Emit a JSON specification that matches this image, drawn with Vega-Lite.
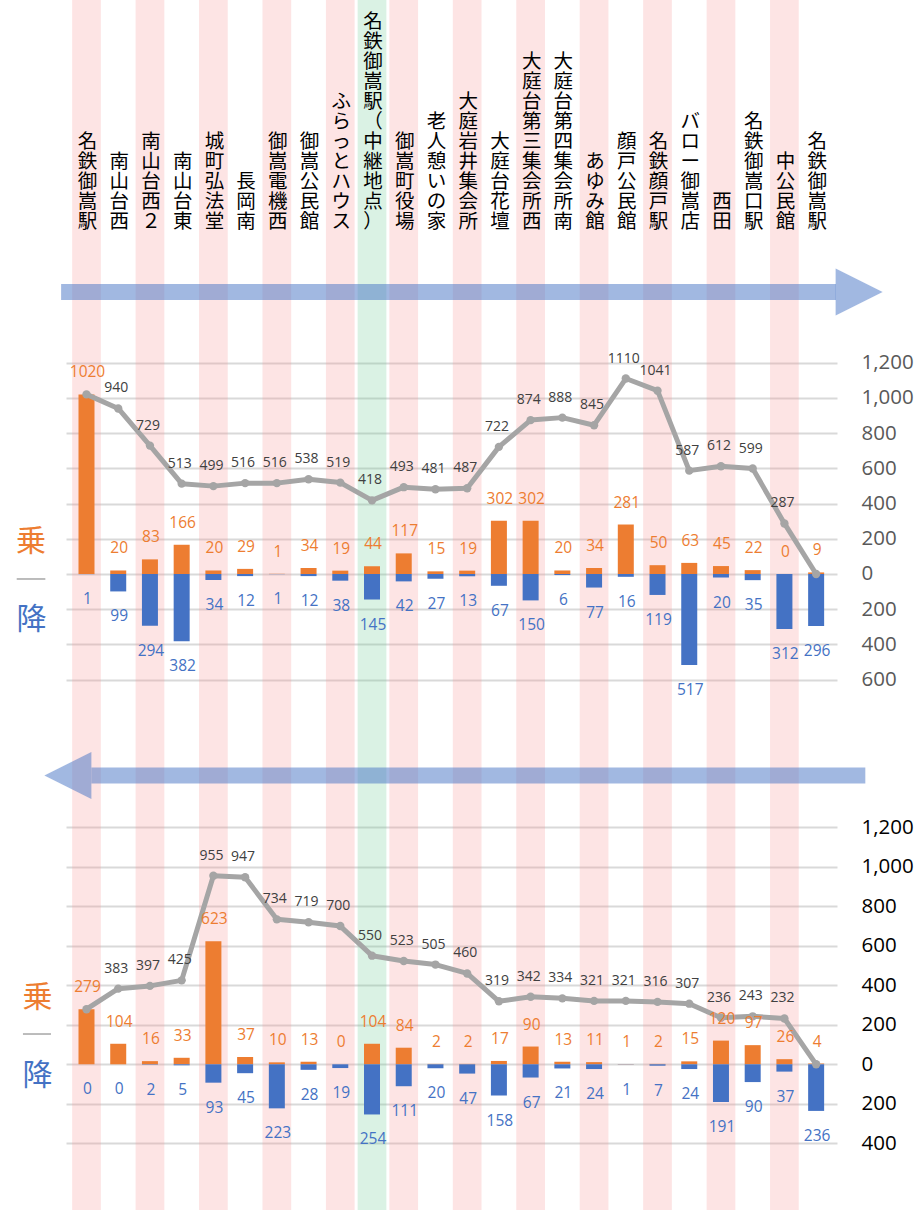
{
  "$schema": "https://vega.github.io/schema/vega-lite/v6.json",
  "width": 771,
  "height": 1210,
  "autosize": {"type": "none"},
  "padding": {"left": 66, "right": 81, "top": 0, "bottom": 0},
  "background": "#ffffff",
  "config": {"view": {"stroke": null}, "font": "Open Sans"},
  "datasets": {
    "stops": [
      {"i": 0, "name": "名鉄御嵩駅", "stripe": "pink", "up_board": 1020, "up_alight": 1, "up_load": 1020, "down_board": 279, "down_alight": 0, "down_load": 279},
      {"i": 1, "name": "南山台西", "stripe": "none", "up_board": 20, "up_alight": 99, "up_load": 940, "down_board": 104, "down_alight": 0, "down_load": 383},
      {"i": 2, "name": "南山台西２", "stripe": "pink", "up_board": 83, "up_alight": 294, "up_load": 729, "down_board": 16, "down_alight": 2, "down_load": 397},
      {"i": 3, "name": "南山台東", "stripe": "none", "up_board": 166, "up_alight": 382, "up_load": 513, "down_board": 33, "down_alight": 5, "down_load": 425},
      {"i": 4, "name": "城町弘法堂", "stripe": "pink", "up_board": 20, "up_alight": 34, "up_load": 499, "down_board": 623, "down_alight": 93, "down_load": 955},
      {"i": 5, "name": "長岡南", "stripe": "none", "up_board": 29, "up_alight": 12, "up_load": 516, "down_board": 37, "down_alight": 45, "down_load": 947},
      {"i": 6, "name": "御嵩電機西", "stripe": "pink", "up_board": 1, "up_alight": 1, "up_load": 516, "down_board": 10, "down_alight": 223, "down_load": 734},
      {"i": 7, "name": "御嵩公民館", "stripe": "none", "up_board": 34, "up_alight": 12, "up_load": 538, "down_board": 13, "down_alight": 28, "down_load": 719},
      {"i": 8, "name": "ふらっとハウス", "stripe": "pink", "up_board": 19, "up_alight": 38, "up_load": 519, "down_board": 0, "down_alight": 19, "down_load": 700},
      {"i": 9, "name": "名鉄御嵩駅（中継地点）", "stripe": "green", "up_board": 44, "up_alight": 145, "up_load": 418, "down_board": 104, "down_alight": 254, "down_load": 550},
      {"i": 10, "name": "御嵩町役場", "stripe": "pink", "up_board": 117, "up_alight": 42, "up_load": 493, "down_board": 84, "down_alight": 111, "down_load": 523},
      {"i": 11, "name": "老人憩いの家", "stripe": "none", "up_board": 15, "up_alight": 27, "up_load": 481, "down_board": 2, "down_alight": 20, "down_load": 505},
      {"i": 12, "name": "大庭岩井集会所", "stripe": "pink", "up_board": 19, "up_alight": 13, "up_load": 487, "down_board": 2, "down_alight": 47, "down_load": 460},
      {"i": 13, "name": "大庭台花壇", "stripe": "none", "up_board": 302, "up_alight": 67, "up_load": 722, "down_board": 17, "down_alight": 158, "down_load": 319},
      {"i": 14, "name": "大庭台第三集会所西", "stripe": "pink", "up_board": 302, "up_alight": 150, "up_load": 874, "down_board": 90, "down_alight": 67, "down_load": 342},
      {"i": 15, "name": "大庭台第四集会所南", "stripe": "none", "up_board": 20, "up_alight": 6, "up_load": 888, "down_board": 13, "down_alight": 21, "down_load": 334},
      {"i": 16, "name": "あゆみ館", "stripe": "pink", "up_board": 34, "up_alight": 77, "up_load": 845, "down_board": 11, "down_alight": 24, "down_load": 321},
      {"i": 17, "name": "顔戸公民館", "stripe": "none", "up_board": 281, "up_alight": 16, "up_load": 1110, "down_board": 1, "down_alight": 1, "down_load": 321},
      {"i": 18, "name": "名鉄顔戸駅", "stripe": "pink", "up_board": 50, "up_alight": 119, "up_load": 1041, "down_board": 2, "down_alight": 7, "down_load": 316},
      {"i": 19, "name": "バロー御嵩店", "stripe": "none", "up_board": 63, "up_alight": 517, "up_load": 587, "down_board": 15, "down_alight": 24, "down_load": 307},
      {"i": 20, "name": "西田", "stripe": "pink", "up_board": 45, "up_alight": 20, "up_load": 612, "down_board": 120, "down_alight": 191, "down_load": 236},
      {"i": 21, "name": "名鉄御嵩口駅", "stripe": "none", "up_board": 22, "up_alight": 35, "up_load": 599, "down_board": 97, "down_alight": 90, "down_load": 243},
      {"i": 22, "name": "中公民館", "stripe": "pink", "up_board": 0, "up_alight": 312, "up_load": 287, "down_board": 26, "down_alight": 37, "down_load": 232},
      {"i": 23, "name": "名鉄御嵩駅", "stripe": "none", "up_board": 9, "up_alight": 296, "up_load": 0, "down_board": 4, "down_alight": 236, "down_load": 0}
    ]
  },
  "data": {"name": "stops"},
  "resolve": {"scale": {"y": "independent"}, "axis": {"y": "independent"}},
  "layer": [
    {
      "transform": [{"filter": {"field": "stripe", "oneOf": ["pink", "green"]}}],
      "mark": {"type": "rule", "strokeWidth": 28.7, "strokeCap": "butt", "strokeOpacity": 0.25},
      "encoding": {
        "x": {"field": "i", "type": "quantitative", "scale": {"domain": [-0.4885, 23.5], "nice": false, "zero": false}, "axis": null},
        "color": {"field": "stripe", "type": "nominal", "scale": {"domain": ["pink", "green"], "range": ["#F79393", "#6CCA92"]}, "legend": null}
      }
    },
    {
      "mark": {"type": "bar", "width": 16, "color": "#ED7D31"},
      "encoding": {
        "x": {"field": "i", "type": "quantitative", "scale": {"domain": [-0.4885, 23.5], "nice": false, "zero": false}, "axis": null},
        "y": {"field": "up_board", "type": "quantitative", "scale": {"domain": [-3611.9, 3259.7], "nice": false, "zero": false},
          "axis": {"orient": "right", "values": [-600, -400, -200, 0, 200, 400, 600, 800, 1000, 1200], "labelExpr": "format(abs(datum.value), ',')", "grid": true, "gridColor": "#D9D9D9", "gridWidth": 2, "domain": false, "ticks": false, "tickSize": 0, "labelPadding": 24, "labelFontSize": 20.5, "labelFont": "Open Sans", "labelColor": "#595959", "labelAlign": "left", "labelBaseline": "middle", "labelOverlap": false, "title": null}},
        "y2": {"datum": 0}
      }
    },
    {
      "layer": [
        {
          "mark": {"type": "bar", "width": 16, "color": "#4472C4"},
          "encoding": {
            "x": {"field": "i", "type": "quantitative", "scale": {"domain": [-0.4885, 23.5], "nice": false, "zero": false}, "axis": null},
            "y": {"field": "up_alight", "type": "quantitative", "scale": {"domain": [-3259.7, 3611.9], "reverse": true, "nice": false, "zero": false}, "axis": null},
            "y2": {"datum": 0}
          }
        },
        {
          "mark": {"type": "text", "color": "#4472C4", "fontSize": 15.5, "font": "Open Sans", "baseline": "middle", "dy": 25, "dx": 1},
          "encoding": {
            "x": {"field": "i", "type": "quantitative", "scale": {"domain": [-0.4885, 23.5], "nice": false, "zero": false}, "axis": null},
            "y": {"field": "up_alight", "type": "quantitative", "scale": {"domain": [-3259.7, 3611.9], "reverse": true, "nice": false, "zero": false}, "axis": null},
            "text": {"field": "up_alight", "type": "quantitative", "format": "d"}
          }
        }
      ]
    },
    {
      "layer": [
        {
          "mark": {"type": "line", "color": "#A5A5A5", "strokeWidth": 5, "strokeJoin": "round", "point": {"filled": true, "size": 70, "color": "#A5A5A5"}},
          "encoding": {
            "x": {"field": "i", "type": "quantitative", "scale": {"domain": [-0.4885, 23.5], "nice": false, "zero": false}, "axis": null},
            "y": {"field": "up_load", "type": "quantitative", "scale": {"domain": [-3611.9, 3259.7], "nice": false, "zero": false}, "axis": null}
          }
        },
        {
          "mark": {"type": "text", "color": "#ED7D31", "fontSize": 15.5, "font": "Open Sans", "baseline": "middle", "dy": -22, "dx": 1},
          "encoding": {
            "x": {"field": "i", "type": "quantitative", "scale": {"domain": [-0.4885, 23.5], "nice": false, "zero": false}, "axis": null},
            "y": {"field": "up_board", "type": "quantitative", "scale": {"domain": [-3611.9, 3259.7], "nice": false, "zero": false}, "axis": null},
            "text": {"field": "up_board", "type": "quantitative", "format": "d"}
          }
        },
        {
          "transform": [{"filter": "datum.i > 0 && datum.i < 23"}],
          "mark": {"type": "text", "color": "#404040", "fontSize": 14, "font": "Open Sans", "baseline": "middle", "dy": -20, "dx": -2},
          "encoding": {
            "x": {"field": "i", "type": "quantitative", "scale": {"domain": [-0.4885, 23.5], "nice": false, "zero": false}, "axis": null},
            "y": {"field": "up_load", "type": "quantitative", "scale": {"domain": [-3611.9, 3259.7], "nice": false, "zero": false}, "axis": null},
            "text": {"field": "up_load", "type": "quantitative", "format": "d"}
          }
        },
        {
          "mark": {"type": "text", "color": "#000000", "fontSize": 19.5, "font": "Noto Sans CJK JP", "baseline": "bottom", "align": "center", "lineHeight": 20, "dx": 1, "lineBreak": {"expr": "regexp('')"}, "dy": {"expr": "-20 * (length(datum.name) - 1)"}},
          "encoding": {
            "x": {"field": "i", "type": "quantitative", "scale": {"domain": [-0.4885, 23.5], "nice": false, "zero": false}, "axis": null},
            "y": {"datum": 1942, "type": "quantitative", "scale": {"domain": [-3611.9, 3259.7], "nice": false, "zero": false}, "axis": null},
            "text": {"field": "name", "type": "nominal"}
          }
        },
        {
          "data": {"values": [{}]},
          "mark": {"type": "rule", "strokeWidth": 16, "strokeCap": "butt", "color": "#4472C4", "strokeOpacity": 0.5},
          "encoding": {
            "x": {"datum": -0.8, "type": "quantitative", "scale": {"domain": [-0.4885, 23.5], "nice": false, "zero": false}, "axis": null},
            "x2": {"datum": 23.625},
            "y": {"datum": 1601.4, "type": "quantitative", "scale": {"domain": [-3611.9, 3259.7], "nice": false, "zero": false}, "axis": null}
          }
        },
        {
          "data": {"values": [{}]},
          "mark": {"type": "point", "shape": "M-1,-1L1,0L-1,1Z", "size": 2209, "filled": true, "color": "#4472C4", "fillOpacity": 0.5, "strokeWidth": 0},
          "encoding": {
            "x": {"datum": 24.355, "type": "quantitative", "scale": {"domain": [-0.4885, 23.5], "nice": false, "zero": false}, "axis": null},
            "y": {"datum": 1601.4, "type": "quantitative", "scale": {"domain": [-3611.9, 3259.7], "nice": false, "zero": false}, "axis": null}
          }
        },
        {
          "data": {"values": [{}]},
          "mark": {"type": "text", "text": "乗", "color": "#ED7D31", "fontSize": 30, "font": "Noto Sans CJK JP", "baseline": "middle"},
          "encoding": {
            "x": {"datum": -1.749, "type": "quantitative", "scale": {"domain": [-0.4885, 23.5], "nice": false, "zero": false}, "axis": null},
            "y": {"datum": 179.4, "type": "quantitative", "scale": {"domain": [-3611.9, 3259.7], "nice": false, "zero": false}, "axis": null}
          }
        },
        {
          "data": {"values": [{}]},
          "mark": {"type": "rule", "strokeWidth": 1.5, "color": "#A6A6A6"},
          "encoding": {
            "x": {"datum": -2.2, "type": "quantitative", "scale": {"domain": [-0.4885, 23.5], "nice": false, "zero": false}, "axis": null},
            "x2": {"datum": -1.297},
            "y": {"datum": -28.4, "type": "quantitative", "scale": {"domain": [-3611.9, 3259.7], "nice": false, "zero": false}, "axis": null}
          }
        },
        {
          "data": {"values": [{}]},
          "mark": {"type": "text", "text": "降", "color": "#4472C4", "fontSize": 30, "font": "Noto Sans CJK JP", "baseline": "middle"},
          "encoding": {
            "x": {"datum": -1.733, "type": "quantitative", "scale": {"domain": [-0.4885, 23.5], "nice": false, "zero": false}, "axis": null},
            "y": {"datum": -260.7, "type": "quantitative", "scale": {"domain": [-3611.9, 3259.7], "nice": false, "zero": false}, "axis": null}
          }
        }
      ]
    },
    {
      "mark": {"type": "bar", "width": 16, "color": "#ED7D31"},
      "encoding": {
        "x": {"field": "i", "type": "quantitative", "scale": {"domain": [-0.4885, 23.5], "nice": false, "zero": false}, "axis": null},
        "y": {"field": "down_board", "type": "quantitative", "scale": {"domain": [-737.7, 5388.9], "nice": false, "zero": false},
          "axis": {"orient": "right", "values": [-400, -200, 0, 200, 400, 600, 800, 1000, 1200], "labelExpr": "format(abs(datum.value), ',')", "grid": true, "gridColor": "#D9D9D9", "gridWidth": 2, "domain": false, "ticks": false, "tickSize": 0, "labelPadding": 24, "labelFontSize": 20.5, "labelFont": "Open Sans", "labelColor": "#000000", "labelAlign": "left", "labelBaseline": "middle", "labelOverlap": false, "title": null}},
        "y2": {"datum": 0}
      }
    },
    {
      "layer": [
        {
          "mark": {"type": "bar", "width": 16, "color": "#4472C4"},
          "encoding": {
            "x": {"field": "i", "type": "quantitative", "scale": {"domain": [-0.4885, 23.5], "nice": false, "zero": false}, "axis": null},
            "y": {"field": "down_alight", "type": "quantitative", "scale": {"domain": [-5388.9, 737.7], "reverse": true, "nice": false, "zero": false}, "axis": null},
            "y2": {"datum": 0}
          }
        },
        {
          "mark": {"type": "text", "color": "#4472C4", "fontSize": 15.5, "font": "Open Sans", "baseline": "middle", "dy": 25, "dx": 1},
          "encoding": {
            "x": {"field": "i", "type": "quantitative", "scale": {"domain": [-0.4885, 23.5], "nice": false, "zero": false}, "axis": null},
            "y": {"field": "down_alight", "type": "quantitative", "scale": {"domain": [-5388.9, 737.7], "reverse": true, "nice": false, "zero": false}, "axis": null},
            "text": {"field": "down_alight", "type": "quantitative", "format": "d"}
          }
        }
      ]
    },
    {
      "layer": [
        {
          "mark": {"type": "line", "color": "#A5A5A5", "strokeWidth": 5, "strokeJoin": "round", "point": {"filled": true, "size": 70, "color": "#A5A5A5"}},
          "encoding": {
            "x": {"field": "i", "type": "quantitative", "scale": {"domain": [-0.4885, 23.5], "nice": false, "zero": false}, "axis": null},
            "y": {"field": "down_load", "type": "quantitative", "scale": {"domain": [-737.7, 5388.9], "nice": false, "zero": false}, "axis": null}
          }
        },
        {
          "mark": {"type": "text", "color": "#ED7D31", "fontSize": 15.5, "font": "Open Sans", "baseline": "middle", "dy": -22, "dx": 1},
          "encoding": {
            "x": {"field": "i", "type": "quantitative", "scale": {"domain": [-0.4885, 23.5], "nice": false, "zero": false}, "axis": null},
            "y": {"field": "down_board", "type": "quantitative", "scale": {"domain": [-737.7, 5388.9], "nice": false, "zero": false}, "axis": null},
            "text": {"field": "down_board", "type": "quantitative", "format": "d"}
          }
        },
        {
          "transform": [{"filter": "datum.i > 0 && datum.i < 23"}],
          "mark": {"type": "text", "color": "#404040", "fontSize": 14, "font": "Open Sans", "baseline": "middle", "dy": -20, "dx": -2},
          "encoding": {
            "x": {"field": "i", "type": "quantitative", "scale": {"domain": [-0.4885, 23.5], "nice": false, "zero": false}, "axis": null},
            "y": {"field": "down_load", "type": "quantitative", "scale": {"domain": [-737.7, 5388.9], "nice": false, "zero": false}, "axis": null},
            "text": {"field": "down_load", "type": "quantitative", "format": "d"}
          }
        },
        {
          "data": {"values": [{}]},
          "mark": {"type": "rule", "strokeWidth": 16, "strokeCap": "butt", "color": "#4472C4", "strokeOpacity": 0.5},
          "encoding": {
            "x": {"datum": 0.156, "type": "quantitative", "scale": {"domain": [-0.4885, 23.5], "nice": false, "zero": false}, "axis": null},
            "x2": {"datum": 24.55},
            "y": {"datum": 1462.3, "type": "quantitative", "scale": {"domain": [-737.7, 5388.9], "nice": false, "zero": false}, "axis": null}
          }
        },
        {
          "data": {"values": [{}]},
          "mark": {"type": "point", "shape": "M1,-1L-1,0L1,1Z", "size": 2209, "filled": true, "color": "#4472C4", "fillOpacity": 0.5, "strokeWidth": 0},
          "encoding": {
            "x": {"datum": -0.5865, "type": "quantitative", "scale": {"domain": [-0.4885, 23.5], "nice": false, "zero": false}, "axis": null},
            "y": {"datum": 1462.3, "type": "quantitative", "scale": {"domain": [-737.7, 5388.9], "nice": false, "zero": false}, "axis": null}
          }
        },
        {
          "data": {"values": [{}]},
          "mark": {"type": "text", "text": "乗", "color": "#ED7D31", "fontSize": 30, "font": "Noto Sans CJK JP", "baseline": "middle"},
          "encoding": {
            "x": {"datum": -1.546, "type": "quantitative", "scale": {"domain": [-0.4885, 23.5], "nice": false, "zero": false}, "axis": null},
            "y": {"datum": 333.8, "type": "quantitative", "scale": {"domain": [-737.7, 5388.9], "nice": false, "zero": false}, "axis": null}
          }
        },
        {
          "data": {"values": [{}]},
          "mark": {"type": "rule", "strokeWidth": 1.5, "color": "#A6A6A6"},
          "encoding": {
            "x": {"datum": -2.003, "type": "quantitative", "scale": {"domain": [-0.4885, 23.5], "nice": false, "zero": false}, "axis": null},
            "x2": {"datum": -1.12},
            "y": {"datum": 153.4, "type": "quantitative", "scale": {"domain": [-737.7, 5388.9], "nice": false, "zero": false}, "axis": null}
          }
        },
        {
          "data": {"values": [{}]},
          "mark": {"type": "text", "text": "降", "color": "#4472C4", "fontSize": 30, "font": "Noto Sans CJK JP", "baseline": "middle"},
          "encoding": {
            "x": {"datum": -1.546, "type": "quantitative", "scale": {"domain": [-0.4885, 23.5], "nice": false, "zero": false}, "axis": null},
            "y": {"datum": -58.7, "type": "quantitative", "scale": {"domain": [-737.7, 5388.9], "nice": false, "zero": false}, "axis": null}
          }
        }
      ]
    }
  ]
}
